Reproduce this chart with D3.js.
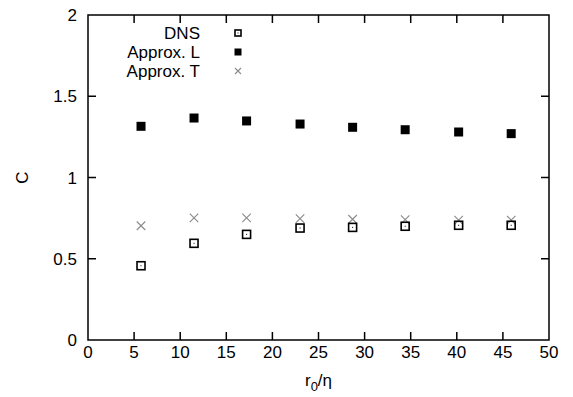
<!DOCTYPE html>
<html><head><meta charset="utf-8">
<script src="https://cdn.jsdelivr.net/npm/d3@7"></script>
<style>body{margin:0;background:#fff;} text{font-family:"Liberation Sans",Arial,Helvetica,sans-serif;}</style>
</head><body>
<svg id="c" width="573" height="397"></svg>
<script>
const r0eta = [5.75, 11.5, 17.2, 23.0, 28.7, 34.4, 40.2, 45.9];
const dns = [0.457, 0.595, 0.650, 0.689, 0.693, 0.700, 0.706, 0.706];
const approxL = [1.315, 1.366, 1.348, 1.329, 1.309, 1.294, 1.280, 1.270];
const approxT = [0.703, 0.751, 0.751, 0.747, 0.743, 0.741, 0.738, 0.738];
const xTicks = [0,5,10,15,20,25,30,35,40,45,50];
const yTicks = [0,0.5,1,1.5,2];
const yTickLabels = ["0","0.5","1","1.5","2"];
const legendLabels = ["DNS","Approx. L","Approx. T"];

const svg = d3.select("#c");
const L=88, R=549, T=15, B=340;
const x = d3.scaleLinear().domain([0,50]).range([L,R]);
const y = d3.scaleLinear().domain([0,2]).range([B,T]);
const fs = 17, tk = 8;

const g = svg.append("g");
// ticks (inward, mirrored)
const ax = g.append("g").attr("stroke","#000").attr("stroke-width",1.5);
xTicks.forEach(v=>{
  if(v===0||v===50) return;
  ax.append("line").attr("x1",x(v)).attr("x2",x(v)).attr("y1",B).attr("y2",B-tk);
  ax.append("line").attr("x1",x(v)).attr("x2",x(v)).attr("y1",T).attr("y2",T+tk);
});
yTicks.forEach(v=>{
  if(v===0||v===2) return;
  ax.append("line").attr("x1",L).attr("x2",L+tk).attr("y1",y(v)).attr("y2",y(v));
  ax.append("line").attr("x1",R).attr("x2",R-tk).attr("y1",y(v)).attr("y2",y(v));
});
g.append("rect").attr("x",L).attr("y",T).attr("width",R-L).attr("height",B-T)
  .attr("fill","none").attr("stroke","#000").attr("stroke-width",1.5);

// tick labels
xTicks.forEach(v=>{
  g.append("text").attr("x",x(v)).attr("y",B+18).attr("text-anchor","middle")
   .attr("font-size",fs).text(v);
});
yTicks.forEach((v,i)=>{
  g.append("text").attr("x",L-11).attr("y",y(v)+6).attr("text-anchor","end")
   .attr("font-size",fs).text(yTickLabels[i]);
});
// axis labels
g.append("text").attr("transform",`translate(28,${(T+B)/2}) rotate(-90)`)
  .attr("text-anchor","middle").attr("font-size",fs).text("C");
const xl = g.append("text").attr("x",(L+R)/2).attr("y",B+46).attr("text-anchor","middle").attr("font-size",fs);
xl.append("tspan").text("r");
xl.append("tspan").attr("dy",5).attr("font-size",13).text("0");
xl.append("tspan").attr("dy",-5).text("/η");

// markers
function openSq(sel, cx, cy, s){
  sel.append("rect").attr("x",cx-s/2).attr("y",cy-s/2).attr("width",s).attr("height",s)
    .attr("fill","none").attr("stroke","#000").attr("stroke-width",1.6);
  sel.append("rect").attr("x",cx-0.5).attr("y",cy-0.5).attr("width",1).attr("height",1).attr("fill","#000");
}
function fillSq(sel, cx, cy, s){
  sel.append("rect").attr("x",cx-s/2).attr("y",cy-s/2).attr("width",s).attr("height",s).attr("fill","#000");
}
function cross(sel, cx, cy, s){
  sel.append("path").attr("d",`M${cx-s/2},${cy-s/2}L${cx+s/2},${cy+s/2}M${cx-s/2},${cy+s/2}L${cx+s/2},${cy-s/2}`)
    .attr("stroke","#8a8a8a").attr("stroke-width",1.1).attr("fill","none");
}
const m = g.append("g");
r0eta.forEach((v,i)=>{ fillSq(m, x(v), y(approxL[i]), 9); });
r0eta.forEach((v,i)=>{ cross(m, x(v), y(approxT[i]), 8.5); });
r0eta.forEach((v,i)=>{ openSq(m, x(v), y(dns[i]), 8); });

// legend
const lg = g.append("g");
const ly = [33, 52, 71];
legendLabels.forEach((t,i)=>{
  lg.append("text").attr("x",200).attr("y",ly[i]+6).attr("text-anchor","end").attr("font-size",fs).text(t);
});
openSq(lg, 238, ly[0], 6);
fillSq(lg, 238, ly[1], 7);
cross(lg, 238, ly[2], 6);
</script>
</body></html>
